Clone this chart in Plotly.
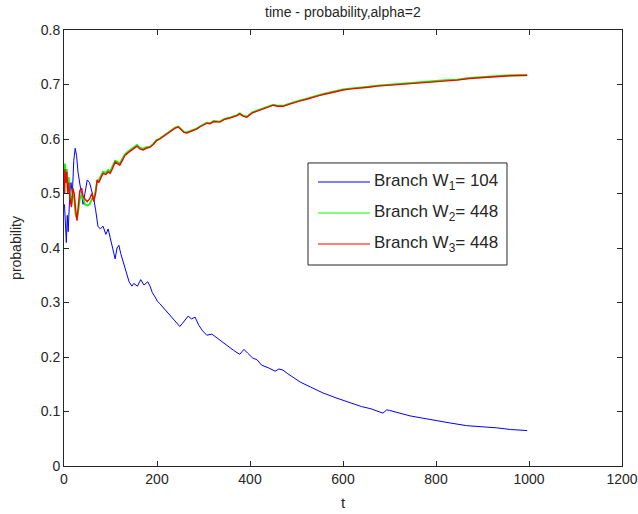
import plotly.graph_objects as go

# ---- data ----
t_blue = [1, 3, 5, 7, 9, 12, 15, 18, 21, 24, 27, 30, 34, 38, 41, 45, 50, 55, 60, 64, 68, 73, 78, 84, 90, 95,
          99, 104, 110, 114, 118, 122, 127, 133, 140, 146, 150, 158, 165, 172, 180, 185, 190, 196, 201, 206,
          214, 221, 228, 235, 242, 249, 255, 261, 267, 274, 282, 290, 298, 307, 318, 329, 340, 350, 357, 365,
          372, 378, 383, 387, 395, 406, 415, 425, 440, 454, 462, 471, 480, 490, 508, 530, 557, 585, 615, 640,
          660, 686, 690, 694, 700, 720, 744, 770, 794, 830, 866, 900, 931, 960, 996]
p_blue = [0.48, 0.44, 0.41, 0.46, 0.43, 0.49, 0.52, 0.50, 0.56, 0.583, 0.57, 0.54, 0.52, 0.50, 0.48, 0.50,
          0.525, 0.52, 0.505, 0.49, 0.47, 0.44, 0.435, 0.44, 0.425, 0.435, 0.42, 0.40, 0.38, 0.40, 0.405,
          0.39, 0.375, 0.355, 0.338, 0.33, 0.335, 0.33, 0.342, 0.332, 0.338, 0.33, 0.318, 0.31, 0.302, 0.298,
          0.29, 0.283, 0.275, 0.268, 0.262, 0.256, 0.262, 0.268, 0.275, 0.27, 0.273, 0.258, 0.248, 0.24,
          0.242, 0.235, 0.228, 0.22, 0.216, 0.212, 0.208, 0.205, 0.21, 0.214, 0.207, 0.198, 0.195, 0.185,
          0.18, 0.174, 0.178, 0.176, 0.17, 0.164, 0.154, 0.145, 0.134, 0.125, 0.116, 0.109, 0.105, 0.097,
          0.10, 0.103, 0.102, 0.097, 0.092, 0.088, 0.084, 0.079, 0.074, 0.072, 0.07, 0.067, 0.065]

t_red = [1, 2, 4, 6, 8, 10, 13, 16, 19, 22, 25, 28, 31, 34, 38, 41, 45, 50, 55, 60, 64, 68, 71, 75, 80, 84,
         90, 95, 99, 104, 110, 115, 120, 125, 131, 138, 146, 152, 157, 163, 170, 177, 185, 192, 199, 206, 214,
         221, 228, 234, 239, 246, 252, 258, 264, 271, 278, 285, 292, 300, 307, 314, 322, 335, 345, 355, 363,
         372, 378, 385, 393, 405, 421, 435, 450, 460, 471, 485, 495, 508, 522, 536, 550, 565, 580, 600, 618,
         637, 655, 673, 690, 708, 730, 759, 776, 794, 820, 845, 872, 901, 930, 960, 996]
p_red = [0.50, 0.545, 0.52, 0.54, 0.50, 0.52, 0.49, 0.475, 0.51, 0.50, 0.47, 0.45, 0.48, 0.505, 0.51, 0.495,
         0.49, 0.485, 0.49, 0.50, 0.485, 0.50, 0.525, 0.52, 0.53, 0.537, 0.535, 0.54, 0.537, 0.545, 0.558,
         0.555, 0.552, 0.56, 0.57, 0.575, 0.58, 0.583, 0.587, 0.582, 0.58, 0.583, 0.585, 0.59, 0.597, 0.60,
         0.605, 0.61, 0.613, 0.617, 0.62, 0.622, 0.617, 0.612, 0.611, 0.613, 0.615, 0.618, 0.622, 0.626,
         0.629, 0.628, 0.632, 0.631, 0.636, 0.638, 0.64, 0.643, 0.646, 0.642, 0.64, 0.648, 0.653, 0.657,
         0.662, 0.66, 0.66, 0.664, 0.667, 0.67, 0.673, 0.677, 0.68, 0.683, 0.686, 0.69, 0.692, 0.693, 0.695,
         0.697, 0.698, 0.699, 0.701, 0.703, 0.704, 0.705, 0.707, 0.708, 0.711, 0.713, 0.714, 0.716, 0.717]

t_green = t_red
p_green = [0.50, 0.555, 0.53, 0.545, 0.51, 0.53, 0.50, 0.48, 0.50, 0.49, 0.46, 0.455, 0.47, 0.49, 0.50, 0.49,
           0.48, 0.478, 0.48, 0.49, 0.49, 0.505, 0.52, 0.525, 0.535, 0.54, 0.538, 0.543, 0.54, 0.548, 0.56,
           0.558, 0.555, 0.563, 0.572, 0.577, 0.582, 0.585, 0.589, 0.584, 0.582, 0.585, 0.586, 0.591, 0.598,
           0.601, 0.606, 0.611, 0.614, 0.618, 0.621, 0.623, 0.618, 0.613, 0.612, 0.614, 0.616, 0.619, 0.623,
           0.627, 0.63, 0.629, 0.633, 0.632, 0.637, 0.639, 0.641, 0.644, 0.647, 0.643, 0.641, 0.649, 0.654,
           0.658, 0.663, 0.661, 0.661, 0.665, 0.668, 0.671, 0.674, 0.678, 0.681, 0.684, 0.687, 0.691, 0.693,
           0.694, 0.696, 0.698, 0.699, 0.7, 0.702, 0.704, 0.705, 0.706, 0.708, 0.709, 0.712, 0.714, 0.715, 0.717, 0.717]

names = ["Branch W<sub>1</sub>= 104", "Branch W<sub>2</sub>= 448", "Branch W<sub>3</sub>= 448"]
colors = ["#0000ff", "#00ff00", "#ff0000"]
x_ticks = [0, 200, 400, 600, 800, 1000, 1200]
y_ticks = [0, 0.1, 0.2, 0.3, 0.4, 0.5, 0.6, 0.7, 0.8]
y_tick_text = ["0", "0.1", "0.2", "0.3", "0.4", "0.5", "0.6", "0.7", "0.8"]

FONT = "Liberation Sans, Arial, sans-serif"
INK = "#262626"

fig = go.Figure()
fig.add_trace(go.Scatter(x=t_blue, y=p_blue, mode="lines", name=names[0],
                         line=dict(color=colors[0], width=1), showlegend=False))
fig.add_trace(go.Scatter(x=t_green, y=p_green, mode="lines", name=names[1],
                         line=dict(color=colors[1], width=1.8), showlegend=False))
fig.add_trace(go.Scatter(x=t_red, y=p_red, mode="lines", name=names[2],
                         line=dict(color=colors[2], width=1.4), showlegend=False))

axis_common = dict(showline=True, linecolor=INK, linewidth=1, mirror="ticks", automargin=False,
                   ticks="inside", ticklen=5, tickcolor=INK, showgrid=False, zeroline=False,
                   tickfont=dict(family=FONT, size=14, color=INK))

# manual legend box (paper coordinates of the plot area)
shapes = [dict(type="rect", xref="paper", yref="paper", x0=0.4373, x1=0.7939, y0=0.461, y1=0.695,
               line=dict(color=INK, width=1), fillcolor="white", layer="above")]
annotations = []
row_y = [0.6514, 0.5803, 0.5092]
for name, col, ry in zip(names, colors, row_y):
    shapes.append(dict(type="line", xref="paper", yref="paper", x0=0.4552, x1=0.5484, y0=ry, y1=ry,
                       line=dict(color=col, width=1.2), layer="above"))
    annotations.append(dict(xref="paper", yref="paper", x=0.552, y=ry, text=name, showarrow=False,
                            xanchor="left", yanchor="middle",
                            font=dict(family=FONT, size=17, color=INK)))

fig.update_layout(
    width=638, height=514, autosize=False,
    paper_bgcolor="white", plot_bgcolor="white",
    margin=dict(l=64, r=16, t=30, b=48, pad=0),
    title=dict(text="time - probability,alpha=2", x=0.5375, xanchor="center", y=0.9767, yanchor="middle",
               font=dict(family=FONT, size=14, color=INK)),
    xaxis=dict(range=[0, 1200], tickvals=x_ticks, title=dict(text="t", standoff=11,
               font=dict(family=FONT, size=15, color=INK)), **axis_common),
    yaxis=dict(range=[0, 0.8], tickvals=y_ticks, ticktext=y_tick_text,
               title=dict(text="probability", standoff=15, font=dict(family=FONT, size=14, color=INK)),
               **axis_common),
    shapes=shapes,
    annotations=annotations,
    showlegend=False,
)

# remove the default page margin so the 638x514 figure fills the window exactly
fig.write_html("out.html", config={"displayModeBar": False},
               post_script="document.body.style.margin='0';document.body.style.overflow='hidden';")
